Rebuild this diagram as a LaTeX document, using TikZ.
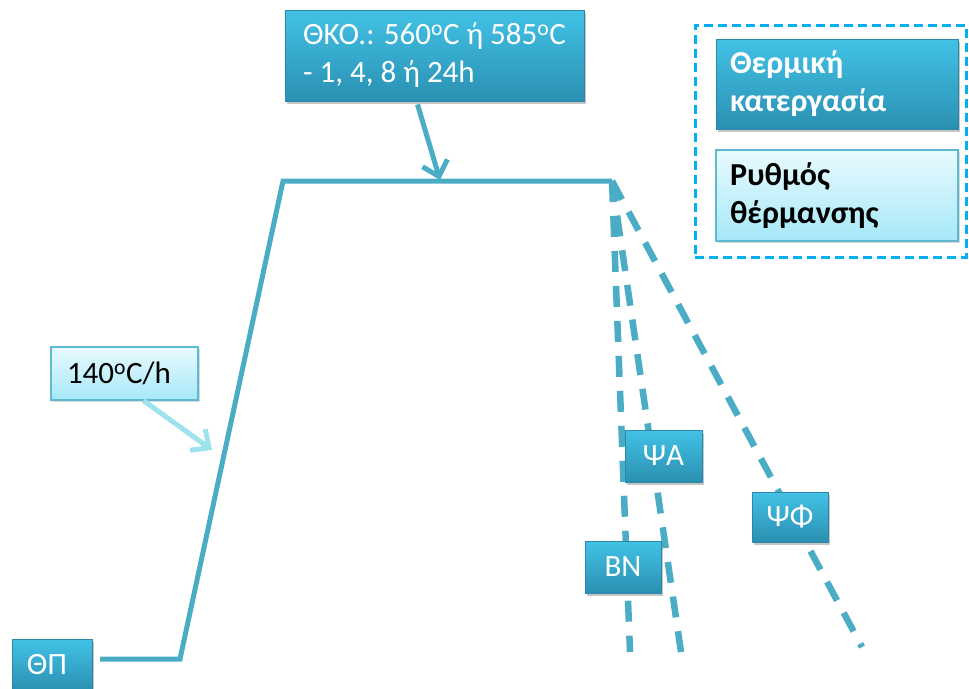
\documentclass[tikz,border=0pt]{standalone}
\usepackage{fontspec}
\setmainfont{Carlito}
\usetikzlibrary{arrows.meta,shadows,calc}
\definecolor{lineblue}{HTML}{4BACC6}
\definecolor{dtop}{HTML}{42C2E6}
\definecolor{dbot}{HTML}{2A90B2}
\definecolor{dborder}{HTML}{2C88A6}
\definecolor{ltop}{HTML}{E8FAFE}
\definecolor{lbot}{HTML}{A6E8F8}
\definecolor{lborder}{HTML}{5DBAD2}
\definecolor{lightarrow}{HTML}{9EE2EE}
\definecolor{legendblue}{HTML}{00B0F0}
\begin{document}
\begin{tikzpicture}[x=1pt,y=-1pt,
  darkbox/.style={draw=dborder, line width=0.8pt, top color=dtop, bottom color=dbot,
    text=white, font=\fontsize{31}{38}\selectfont, align=left, inner xsep=14pt, inner ysep=0pt,
    drop shadow={shadow xshift=2pt, shadow yshift=-3pt, opacity=0.45}},
  lightbox/.style={draw=lborder, line width=1.2pt, top color=ltop, bottom color=lbot,
    text=black, font=\fontsize{31}{38}\selectfont, align=left, inner xsep=14pt, inner ysep=0pt,
    drop shadow={shadow xshift=1.5pt, shadow yshift=-2pt, opacity=0.3}},
  mainline/.style={draw=lineblue, line width=5pt},
  dashline/.style={draw=lineblue, line width=6.5pt, dash pattern=on 21pt off 14pt},
  pointer/.style={line width=5pt, -{Straight Barb[length=14pt,width=26pt]}},
]
\useasboundingbox (0,0) rectangle (969,688);

% key points of the curve
\coordinate (p0) at (100,659);
\coordinate (p1) at (180,659);
\coordinate (p2) at (283,181);
\coordinate (p3) at (612,181);
\coordinate (bnend) at (630,652);
\coordinate (psaend) at (681,652);
\coordinate (psfend) at (862,647);
\coordinate (tkotip) at (440,180);
\coordinate (ratetip) at (212,450);

% curve
\draw[mainline] (p0) -- (p1) -- (p2) -- (p3);
\draw[dashline] (p3) -- (bnend);
\draw[dashline] (p3) -- (psaend);
\draw[dashline] (p3) -- (psfend);

% labels
\node[darkbox, minimum width=299pt, minimum height=91pt] (tko) at (434.5,55.5)
  {ΘΚΟ.: 560\textsuperscript{o}C ή 585\textsuperscript{o}C\\- 1, 4, 8 ή 24h};
\node[lightbox, minimum width=147pt, minimum height=53pt, text width=115pt, inner xsep=16pt] (rate) at (124.5,373.5)
  {140\textsuperscript{o}C/h};
\node[darkbox, minimum width=80pt, minimum height=52pt, text width=50pt, inner xsep=15pt] (tp) at (52,665) {ΘΠ};
\node[darkbox, minimum width=77pt, minimum height=52pt] (psa) at (663.5,456) {ΨA};
\node[darkbox, minimum width=76pt, minimum height=52pt] (bn) at (623,567) {BN};
\node[darkbox, minimum width=76pt, minimum height=50pt] (psf) at (790,517) {ΨΦ};

% pointers
\draw[pointer, lineblue] ($(tko.south)+(-17,3)$) -- (tkotip);
\draw[pointer, lightarrow] ($(rate.south)+(19,0)$) -- (ratetip);

% legend
\node[draw=legendblue, line width=3pt, dash pattern=on 9pt off 5pt,
  minimum width=271pt, minimum height=232pt, inner sep=0pt] (legend) at (830.5,141) {};
\node[darkbox, minimum width=242pt, minimum height=90pt, text width=214pt,
  font=\fontsize{32}{38}\selectfont\bfseries] (leg1) at (837,84) {Θερμική\\κατεργασία};
\node[lightbox, minimum width=242pt, minimum height=91pt, text width=214pt,
  font=\fontsize{32}{38}\selectfont\bfseries] (leg2) at (837,195.5) {Ρυθμός\\θέρμανσης};
\end{tikzpicture}
\end{document}
